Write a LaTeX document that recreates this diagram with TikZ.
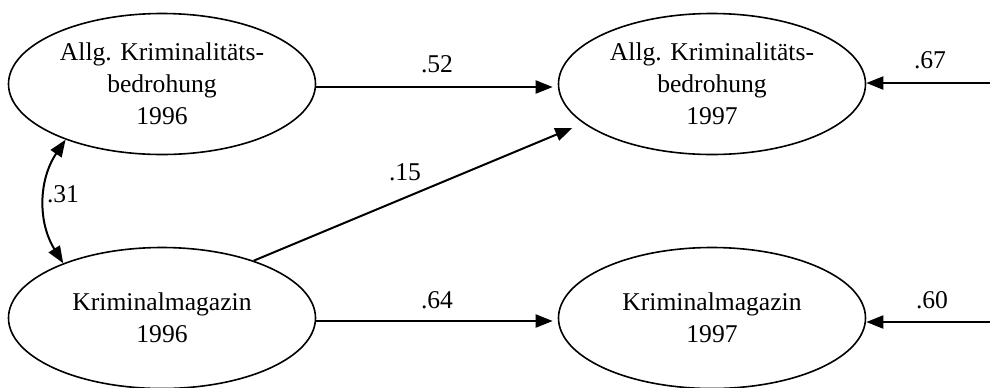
\documentclass[tikz,border=0pt]{standalone}
\usepackage{fontspec}
\setmainfont{Liberation Serif}
\usetikzlibrary{shapes.geometric,arrows.meta}
\begin{document}
\begin{tikzpicture}[x=0.5pt,y=-0.5pt,
    latent/.style={draw,ellipse,line width=0.8pt,minimum width=153.5pt,minimum height=70.5pt,inner sep=0pt,align=center,font=\fontsize{12.8}{16}\selectfont},
    path/.style={line width=1pt,-{Triangle[length=8.5pt,width=6.5pt]}},
    coef/.style={font=\fontsize{12.8}{15}\selectfont}]
                \useasboundingbox (0,0) rectangle (990,387);
                \node[latent] (A96) at (162,84) {Allg. Kriminalitäts-\\bedrohung\\1996};
                \node[latent] (K96) at (162,318) {Kriminalmagazin\\1996};
                \node[latent] (A97) at (712,84) {Allg. Kriminalitäts-\\bedrohung\\1997};
                \node[latent] (K97) at (712,318) {Kriminalmagazin\\1997};
                \coordinate (eA) at (990,83);
                \coordinate (eK) at (990,322);
                \draw[path,shorten >=2.5pt] ([yshift=-1.5pt]A96.east) -- ([yshift=-1.5pt]A97.west);
                \draw[path,shorten >=2.5pt] ([yshift=-1.5pt]K96.east) -- ([yshift=-1.5pt]K97.west);
                \draw[path,shorten >=6pt] (K96.32) -- (A97.197);
                \draw[path] (eA) -- (eA-|A97.east);
                \draw[path] (eK) -- (eK-|K97.east);
                \draw[path,{Triangle[length=8.5pt,width=6.5pt]}-{Triangle[length=8.5pt,width=6.5pt]}] (A96.210) to[bend right=33] (K96.151);
                \node[coef] (c52) at (437,64) {.52};
                \node[coef] (c64) at (437,300) {.64};
                \node[coef] (c15) at (405,172) {.15};
                \node[coef] (c31) at (63,194) {.31};
                \node[coef] (c67) at (930,60) {.67};
                \node[coef] (c60) at (932,300) {.60};
            \end{tikzpicture}
\end{document}
